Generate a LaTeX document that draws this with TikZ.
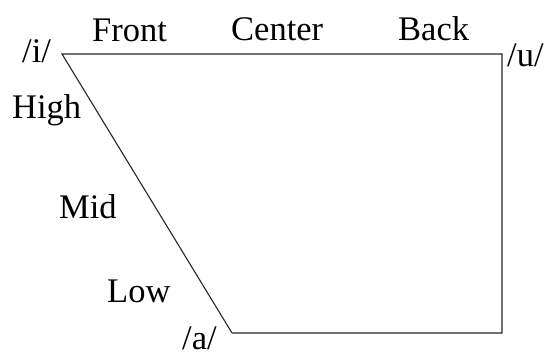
\documentclass[tikz,border=0pt]{standalone}
\usepackage{fontspec}
\setmainfont{Liberation Serif}
\begin{document}
\begin{tikzpicture}[x=1pt,y=-1pt,
  lbl/.style={anchor=base west,inner sep=0pt,font=\fontsize{34.5}{40}\selectfont},
  edge/.style={line width=1.1pt,color=black!85,line join=miter}]
\useasboundingbox (0,0) rectangle (545,352);
\coordinate (ci) at (62,54);
\coordinate (cu) at (502,54);
\coordinate (cb) at (502,333);
\coordinate (ca) at (232,333);
\draw[edge] (ca) -- (ci) -- (cu) -- (cb) -- (ca);
\node[lbl] (ti) at (22,63) {/i/};
\node[lbl] (front) at (92,42) {Front};
\node[lbl] (center) at (231,41) {Center};
\node[lbl] (back) at (398,41) {Back};
\node[lbl] (tu) at (507,67) {/u/};
\node[lbl] (high) at (12,119) {High};
\node[lbl] (mid) at (59,219) {Mid};
\node[lbl] (low) at (107,302) {Low};
\node[lbl] (ta) at (182,349) {/a/};
\end{tikzpicture}
\end{document}
